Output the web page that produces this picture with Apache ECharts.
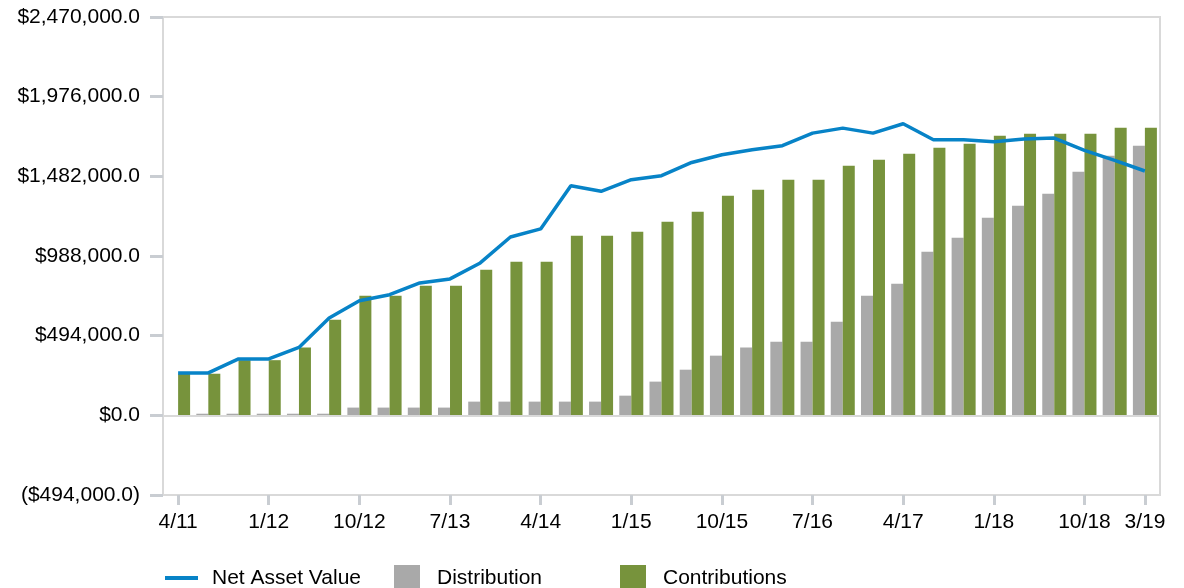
<!DOCTYPE html>
<html>
<head>
<meta charset="utf-8">
<script src="https://cdn.jsdelivr.net/npm/echarts@6/dist/echarts.min.js"></script>
<style>
  html, body { margin: 0; padding: 0; background: #ffffff; }
  #chart { width: 1184px; height: 588px; }
</style>
</head>
<body>
<div id="chart"></div>
<script>
// Quarter-end dates along the x axis
const quarters = [
  '4/11', '7/11', '10/11',
  '1/12', '4/12', '7/12', '10/12',
  '1/13', '4/13', '7/13', '10/13',
  '1/14', '4/14', '7/14', '10/14',
  '1/15', '4/15', '7/15', '10/15',
  '1/16', '4/16', '7/16', '10/16',
  '1/17', '4/17', '7/17', '10/17',
  '1/18', '4/18', '7/18', '10/18',
  '1/19', '3/19'
];

// Dates that get a label and tick mark
const labeledQuarters = ['4/11', '1/12', '10/12', '7/13', '4/14', '1/15', '10/15', '7/16', '4/17', '1/18', '10/18', '3/19'];

// Cumulative net asset value
const netAssetValue = [
  263000, 263000, 350000, 350000, 421000, 604000, 711000, 748000, 821000, 846000, 945000,
  1106000, 1156000, 1424000, 1389000, 1461000, 1486000, 1568000, 1616000, 1647000, 1672000,
  1750000, 1781000, 1750000, 1808000, 1709000, 1709000, 1697000, 1713000, 1719000, 1643000,
  1581000, 1515000
];

// Cumulative distributions
const distribution = [
  -8000, 10000, 10000, 10000, 10000, 10000, 48000, 48000, 48000, 48000, 85000,
  85000, 85000, 85000, 85000, 122000, 209000, 283000, 370000, 420000, 457000,
  457000, 581000, 742000, 816000, 1015000, 1101000, 1225000, 1300000, 1374000, 1510000,
  1610000, 1672000
];

// Cumulative contributions
const contributions = [
  258000, 258000, 342000, 342000, 420000, 593000, 742000, 742000, 804000, 804000, 903000,
  953000, 953000, 1114000, 1114000, 1139000, 1201000, 1263000, 1362000, 1399000, 1461000,
  1461000, 1548000, 1585000, 1622000, 1659000, 1684000, 1734000, 1746000, 1746000, 1746000,
  1783000, 1783000
];

// Value axis range
const yMin = -494000;
const yMax = 2470000;
const yStep = 494000;

const FONT = '"Liberation Sans", Arial, sans-serif';

function money(v) {
  const digits = String(Math.abs(Math.round(v))).replace(/\B(?=(\d{3})+(?!\d))/g, ',');
  const s = '$' + digits + '.0';
  return v < 0 ? '(' + s + ')' : s;
}

function showQuarter(i) {
  return labeledQuarters.indexOf(quarters[i]) !== -1;
}

const chart = echarts.init(document.getElementById('chart'), null, { renderer: 'canvas' });

const legendText = { color: '#000', fontFamily: FONT, fontSize: 21, lineHeight: 26 };

chart.setOption({
  animation: false,
  backgroundColor: '#ffffff',
  grid: {
    left: 163, right: 24, top: 17, bottom: 93,
    containLabel: false,
    outerBoundsMode: 'none',
    show: true,
    borderColor: '#d9d9d9',
    borderWidth: 2,
    backgroundColor: 'transparent'
  },
  legend: [
    {
      data: ['Net Asset Value'],
      left: 160, top: 560,
      icon: 'rect', itemWidth: 33, itemHeight: 4,
      selectedMode: false,
      textStyle: Object.assign({ padding: [0, 0, 0, 9] }, legendText)
    },
    {
      data: ['Distribution'],
      left: 389, top: 560,
      icon: 'rect', itemWidth: 26, itemHeight: 26,
      selectedMode: false,
      textStyle: Object.assign({ padding: [0, 0, 0, 12] }, legendText)
    },
    {
      data: ['Contributions'],
      left: 615, top: 560,
      icon: 'rect', itemWidth: 26, itemHeight: 26,
      selectedMode: false,
      textStyle: Object.assign({ padding: [0, 0, 0, 12] }, legendText)
    }
  ],
  xAxis: {
    type: 'category',
    data: quarters,
    boundaryGap: true,
    axisLine: { show: false, onZero: false },
    axisTick: {
      show: true,
      alignWithLabel: true,
      interval: (i) => showQuarter(i),
      length: 10,
      lineStyle: { color: '#c9cdd2', width: 3 }
    },
    axisLabel: {
      interval: (i) => showQuarter(i),
      margin: 17,
      color: '#000',
      fontFamily: FONT,
      fontSize: 21
    },
    splitLine: { show: false }
  },
  yAxis: {
    type: 'value',
    min: yMin,
    max: yMax,
    interval: yStep,
    axisLine: { show: false },
    axisTick: {
      show: true,
      inside: false,
      length: 13,
      lineStyle: { color: '#c9cdd2', width: 3 }
    },
    axisLabel: {
      margin: 23,
      color: '#000',
      fontFamily: FONT,
      fontSize: 21,
      padding: [3, 0, 0, 0],
      formatter: money
    },
    splitLine: { show: false }
  },
  series: [
    {
      name: 'Net Asset Value',
      type: 'line',
      data: netAssetValue,
      z: 4,
      symbol: 'none',
      showSymbol: false,
      smooth: false,
      itemStyle: { color: '#0783c7' },
      lineStyle: { color: '#0783c7', width: 3.5 }
    },
    {
      name: 'Distribution',
      type: 'bar',
      data: distribution,
      barWidth: 12,
      barGap: '0%',
      itemStyle: { color: '#a9a9a9' },
      markLine: {
        silent: true,
        symbol: 'none',
        label: { show: false },
        lineStyle: { color: '#d9d9d9', width: 2, type: 'solid' },
        data: [{ yAxis: 0 }]
      }
    },
    {
      name: 'Contributions',
      type: 'bar',
      data: contributions,
      barWidth: 12,
      barGap: '0%',
      itemStyle: { color: '#77933c' }
    }
  ]
});
</script>
</body>
</html>
